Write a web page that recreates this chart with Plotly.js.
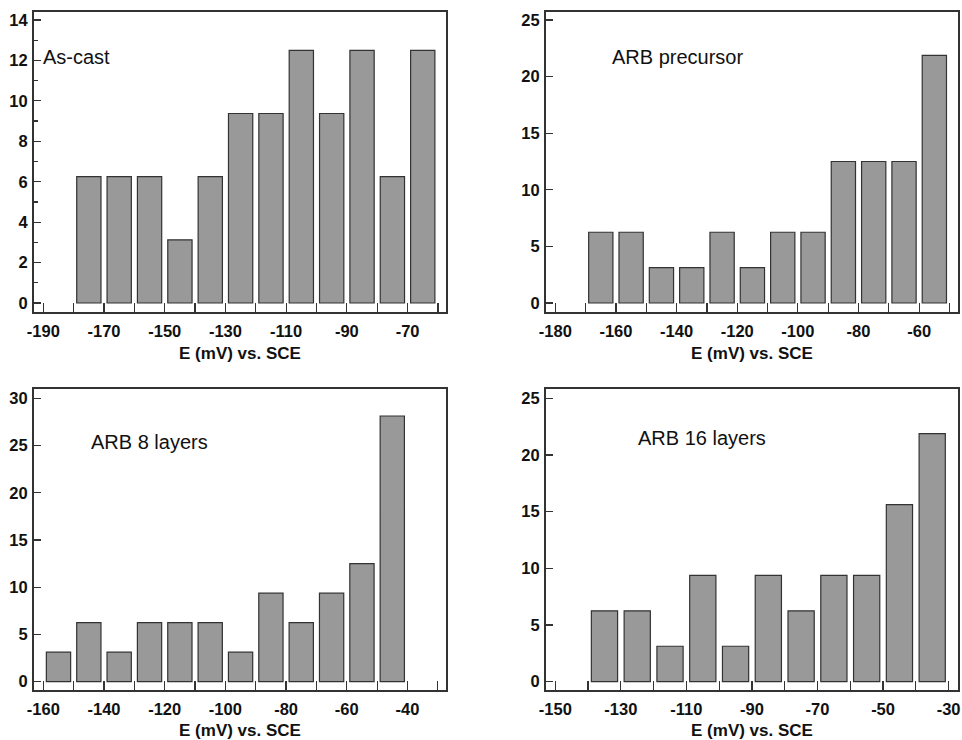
<!DOCTYPE html>
<html>
<head>
<meta charset="utf-8">
<script src="https://cdn.plot.ly/plotly-3.0.1.min.js"></script>
<style>html,body{margin:0;padding:0;background:#fff;}#chart{width:962px;height:740px;}</style>
</head>
<body>
<div id="chart"></div>
<script>
// Bin centres (mV vs. SCE) and percentages for each sample
const asCastE = [-175, -165, -155, -145, -135, -125, -115, -105, -95, -85, -75, -65];
const asCastPct = [6.25, 6.25, 6.25, 3.125, 6.25, 9.375, 9.375, 12.5, 9.375, 12.5, 6.25, 12.5];

const precursorE = [-165, -155, -145, -135, -125, -115, -105, -95, -85, -75, -65, -55];
const precursorPct = [6.25, 6.25, 3.125, 3.125, 6.25, 3.125, 6.25, 6.25, 12.5, 12.5, 12.5, 21.875];

const arb8E = [-155, -145, -135, -125, -115, -105, -95, -85, -75, -65, -55, -45];
const arb8Pct = [3.125, 6.25, 3.125, 6.25, 6.25, 6.25, 3.125, 9.375, 6.25, 9.375, 12.5, 28.125];

const arb16E = [-135, -125, -115, -105, -95, -85, -75, -65, -55, -45, -35];
const arb16Pct = [6.25, 6.25, 3.125, 9.375, 3.125, 9.375, 6.25, 9.375, 9.375, 15.625, 21.875];

// x tick labels (hyphen-minus as in the original)
const xTicks1 = [-190, -170, -150, -130, -110, -90, -70];
const xTicks2 = [-180, -160, -140, -120, -100, -80, -60];
const xTicks3 = [-160, -140, -120, -100, -80, -60, -40];
const xTicks4 = [-150, -130, -110, -90, -70, -50, -30];

const panelLabels = ["As-cast", "ARB precursor", "ARB 8 layers", "ARB 16 layers"];
const xTitle = "E (mV) vs. SCE";

const W = 962, H = 740;
const px = v => v / W;
const py = v => 1 - v / H;

const axisColor = "#333333";
const FAMILY = "Liberation Sans, Arial, sans-serif";
const tickFont = {family: FAMILY, size: 16.5, color: "#111", weight: "bold"};
const titleFont = {family: FAMILY, size: 17, color: "#111", weight: "bold"};

function barTrace(x, y, xa, ya) {
  return {
    type: "bar", x: x, y: y, xaxis: xa, yaxis: ya, width: 8,
    marker: {color: "#999999", line: {color: "#333333", width: 1.2}},
    hoverinfo: "x+y", showlegend: false
  };
}

function xAxis(dom, range, ticks, anchor) {
  return {
    domain: dom, range: range, anchor: anchor,
    tickmode: "array", tickvals: ticks, ticktext: ticks.map(v => String(v)),
    ticks: "inside", ticklen: 9, tickwidth: 1.2, tickcolor: axisColor,
    minor: {tickmode: "linear", tick0: ticks[0], dtick: 10, ticks: "inside", ticklen: 9, tickwidth: 1.2, tickcolor: axisColor, showgrid: false},
    showline: true, mirror: true, linecolor: axisColor, linewidth: 2,
    showgrid: false, zeroline: false, tickfont: tickFont, ticklabelstandoff: 3,
    ticklabeloverflow: "allow",
    title: {text: xTitle, font: titleFont, standoff: 8},
    fixedrange: true
  };
}

function yAxis(dom, range, dtick, minorDtick, anchor) {
  const a = {
    domain: dom, range: range, anchor: anchor,
    tickmode: "linear", tick0: 0, dtick: dtick,
    ticks: "inside", ticklen: 7, tickwidth: 1.2, tickcolor: axisColor,
    showline: true, mirror: true, linecolor: axisColor, linewidth: 2,
    showgrid: false, zeroline: false, tickfont: tickFont, ticklabelstandoff: 1,
    fixedrange: true
  };
  if (minorDtick) {
    a.minor = {tickmode: "linear", tick0: 0, dtick: minorDtick, ticks: "inside", ticklen: 4, tickwidth: 1.2, tickcolor: axisColor, showgrid: false};
  }
  return a;
}

const leftX = [px(34), px(446)];
const rightX = [px(546), px(958)];
const topY = [py(312), py(12)];
const botY = [py(690), py(389.3)];

const data = [
  barTrace(asCastE, asCastPct, "x", "y"),
  barTrace(precursorE, precursorPct, "x2", "y2"),
  barTrace(arb8E, arb8Pct, "x3", "y3"),
  barTrace(arb16E, arb16Pct, "x4", "y4")
];

const annFont = {family: FAMILY, size: 20, color: "#111"};
function ann(text, x, y) {
  return {text: text, xref: "paper", yref: "paper", x: px(x), y: py(y), xanchor: "left", yanchor: "middle", showarrow: false, font: annFont};
}

const layout = {
  width: W, height: H,
  margin: {l: 0, r: 0, t: 0, b: 0},
  paper_bgcolor: "#ffffff", plot_bgcolor: "#ffffff",
  showlegend: false,
  xaxis: xAxis(leftX, [-193.07, -57.34], xTicks1, "y"),
  yaxis: yAxis(topY, [-0.445, 14.396], 2, 1, "x"),
  xaxis2: xAxis(rightX, [-183.07, -47.2], xTicks2, "y2"),
  yaxis2: yAxis(topY, [-0.795, 25.707], 5, null, "x2"),
  xaxis3: xAxis(leftX, [-163.07, -27.3], xTicks3, "y3"),
  yaxis3: yAxis(botY, [-0.879, 30.95], 5, null, "x3"),
  xaxis4: xAxis(rightX, [-152.84, -27.13], xTicks4, "y4"),
  yaxis4: yAxis(botY, [-0.732, 25.79], 5, null, "x4"),
  annotations: [
    ann(panelLabels[0], 41, 57),
    ann(panelLabels[1], 610, 57),
    ann(panelLabels[2], 89, 441.7),
    ann(panelLabels[3], 635.5, 437.7)
  ]
};

Plotly.newPlot("chart", data, layout, {displayModeBar: false, staticPlot: true});
</script>
</body>
</html>
